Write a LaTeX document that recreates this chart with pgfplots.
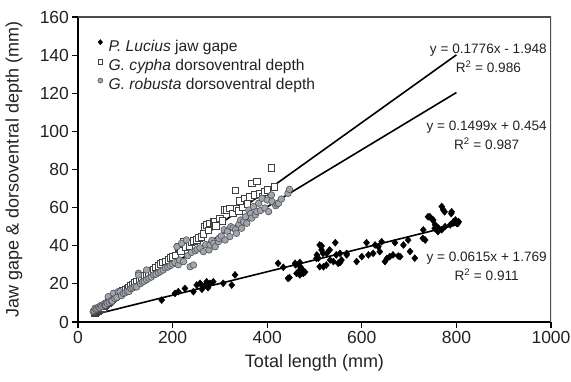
\documentclass[border=0pt]{standalone}
\usepackage{fontspec}
\setmainfont{Liberation Sans}
\usepackage{pgfplots}
\pgfplotsset{compat=1.18}
\definecolor{robfill}{HTML}{A2A6AC}
\definecolor{robedge}{HTML}{505358}
\definecolor{txt}{HTML}{222222}
\begin{document}
\begin{tikzpicture}
\begin{axis}[
 name=ax,
 scale only axis, width=473pt, height=305pt,
 xmin=0,xmax=1000,ymin=0,ymax=160,
 xtick={0,200,...,1000}, ytick={0,20,...,160},
 axis lines*=left,
 axis line style={black, line width=1.6pt},
 tick align=outside, major tick length=5.5pt,
 tick style={black, line width=1.1pt},
 ticklabel style={font=\fontsize{17.5}{20}\selectfont, text=txt},
 /pgf/number format/assume math mode=true,
 /pgf/number format/1000 sep={},
 xlabel={Total length (mm)}, ylabel={Jaw gape \& dorsoventral depth (mm)},
 label style={font=\fontsize{18}{21}\selectfont, text=txt},
 xlabel style={at={(axis description cs:0.5,-0.1344)}, anchor=center},
 ylabel style={at={(axis description cs:-0.1353,0.5)}, anchor=center},
 legend style={draw=none, fill=none, at={(axis description cs:0.038,0.9331)}, anchor=north west, inner sep=0pt,
   font=\fontsize{15.6}{18}\selectfont, text=txt,
   nodes={inner sep=2.6pt, text height=11pt, text depth=3pt}, row sep=0pt, column sep=0pt},
 legend cell align=left,
 legend image code/.code={\path (-4pt,0pt) (5.5pt,0pt); \draw[#1, every mark/.append style={scale=0.75}] plot coordinates {(0pt,5pt)};},
]
\addplot[only marks, mark=diamond*, mark size=3.5pt, mark options={black, fill=black, xscale=1.15}] coordinates {
(177,11.5) (205,15.0) (212,15.9) (226,17.6) (244,15.9) (251,19.4) (258,20.3) (265,18.5) (272,21.1) (279,20.3)
(286,21.1) (268,19.0) (262,17.2) (275,18.0) (307,20.3) (325,19.4) (332,24.7) (423,30.8) (434,28.7) (444,22.9)
(447,23.3) (459,30.8) (460,30.0) (462,25.5) (469,27.3) (469,31.2) (469,24.7) (476,25.5) (476,27.0) (470,29.0)
(480,26.2) (504,33.4) (505,35.2) (508,33.5) (511,40.4) (511,29.0) (515,39.9) (515,37.8) (518,36.0) (519,29.0)
(525,29.9) (526,36.0) (532,37.8) (533,32.5) (540,31.7) (544,41.6) (546,35.2) (550,30.8) (554,31.2) (554,36.0)
(557,32.5) (568,36.0) (568,35.2) (589,31.7) (600,34.3) (610,41.6) (614,35.2) (624,36.0) (628,40.4) (635,39.5)
(638,36.9) (642,42.1) (649,31.7) (653,33.3) (659,34.3) (666,35.2) (670,41.6) (677,34.6) (681,34.3) (688,40.4)
(698,43.0) (702,37.0) (712,33.5) (729,43.9) (730,48.3) (734,43.0) (740,55.2) (744,55.2) (750,53.5) (751,53.5)
(754,49.2) (755,51.0) (761,47.4) (762,49.3) (769,60.6) (769,48.4) (772,58.9) (775,57.8) (776,50.0) (787,51.0)
(789,56.9) (790,57.8) (794,52.6) (798,53.5) (799,52.6) (801,51.7) (803,51.7) (805,52.6)
};
\addlegendentry{\textit{P. Lucius} jaw gape}
\addplot[only marks, mark=square*, mark size=3.3pt, mark options={draw=black!75, fill=white, line width=0.7pt}] coordinates {
(35,4.5) (38,5.2) (40,5.8) (42,5.5) (45,6.3) (48,7.0) (50,7.2) (52,7.5) (55,8.3) (58,8.8)
(60,9.5) (63,9.8) (65,10.5) (68,10.9) (70,11.6) (73,11.8) (75,12.5) (78,12.9) (80,13.6) (84,13.9)
(88,14.8) (92,15.2) (95,16.3) (100,16.8) (104,17.5) (108,18.1) (112,18.9) (116,19.5) (120,20.6) (125,21.2)
(130,22.1) (135,22.8) (140,24.2) (145,24.9) (150,25.6) (155,26.8) (160,27.5) (165,28.6) (170,29.5) (175,30.4)
(180,31.2) (185,31.9) (191,32.5) (196,33.8) (201,34.3) (206,35.0) (212,38.6) (212,39.5) (218,37.4) (223,41.2)
(223,42.2) (228,39.4) (235,40.1) (240,41.8) (245,42.6) (251,43.0) (255,44.1) (261,44.8) (265,46.2) (268,50.0)
(272,50.9) (276,48.1) (279,51.7) (286,52.6) (289,52.6) (292,50.3) (300,54.4) (305,53.0) (311,58.7) (314,58.7)
(321,59.6) (328,57.0) (333,69.0) (335,59.6) (340,58.4) (342,63.6) (348,60.2) (352,64.9) (358,62.1) (363,65.7)
(367,72.8) (373,66.6) (378,73.7) (384,67.2) (390,66.0) (394,68.3) (400,69.4) (409,81.0) (415,70.8)
};
\addlegendentry{\textit{G. cypha} dorsoventral depth}
\addplot[only marks, mark=*, mark size=3.3pt, mark options={draw=robedge, fill=robfill, line width=0.6pt}] coordinates {
(32,5.5) (34,6.0) (36,7.2) (38,6.5) (40,7.0) (43,7.8) (46,7.5) (48,8.6) (50,8.2) (53,9.1)
(56,9.4) (58,8.9) (60,10.2) (62,9.8) (64,13.3) (66,10.4) (70,11.2) (72,11.0) (75,15.1) (78,12.3)
(82,12.9) (85,15.9) (89,15.9) (92,13.8) (96,15.0) (100,15.4) (104,16.2) (108,16.0) (112,17.5) (116,17.9)
(120,18.6) (124,18.4) (128,25.6) (128,24.6) (132,20.1) (136,21.0) (140,21.4) (145,27.3) (145,22.2) (150,23.0)
(155,23.6) (160,24.8) (165,25.1) (170,25.9) (175,26.6) (180,27.3) (185,28.4) (190,28.8) (195,29.6) (200,30.4)
(205,31.2) (209,39.5) (212,30.0) (215,32.5) (219,41.3) (223,31.7) (229,43.0) (232,34.8) (237,29.0) (240,36.5)
(244,29.9) (248,37.4) (252,38.2) (258,38.9) (265,36.9) (270,40.6) (277,37.8) (279,40.4) (283,42.8) (287,41.3)
(290,39.5) (297,42.2) (298,43.9) (303,45.1) (309,48.4) (311,43.0) (316,47.6) (321,44.8) (323,50.0) (328,49.3)
(333,48.4) (335,46.5) (340,51.2) (344,53.5) (346,49.2) (350,52.6) (354,55.2) (357,51.8) (361,58.7) (365,56.9)
(367,54.5) (371,60.5) (375,56.2) (378,58.0) (382,62.3) (386,58.5) (389,64.9) (395,59.8) (400,64.0) (403,57.9)
(410,63.2) (409,66.6) (418,61.0) (421,61.9) (424,62.3) (430,64.5) (444,67.5) (447,69.6)
};
\addlegendentry{\textit{G. robusta} dorsoventral depth}
\addplot[black, line width=1.6pt, forget plot] coordinates {(35,4.268) (800,140.132)};
\addplot[black, line width=1.6pt, forget plot] coordinates {(32,5.251) (800,120.374)};
\addplot[black, line width=1.6pt, forget plot] coordinates {(36,3.983) (800,50.969)};
\draw[color=black!70, line width=1.1pt] (rel axis cs:0,1) -- (rel axis cs:1,1) -- (rel axis cs:1,0);
\node[anchor=east, align=center, inner sep=0pt, text=txt, font=\fontsize{13.6}{19}\selectfont] at (axis cs:991.5,138.1) {y = 0.1776x - 1.948\\R\textsuperscript{2} = 0.986};
\node[anchor=east, align=center, inner sep=0pt, text=txt, font=\fontsize{13.6}{19}\selectfont] at (axis cs:991.5,97.8) {y = 0.1499x + 0.454\\R\textsuperscript{2} = 0.987};
\node[anchor=east, align=center, inner sep=0pt, text=txt, font=\fontsize{13.6}{19}\selectfont] at (axis cs:991.5,29.3) {y = 0.0615x + 1.769\\R\textsuperscript{2} = 0.911};
\end{axis}
\pgfresetboundingbox
\path[use as bounding box] ([xshift=-78pt,yshift=-59pt]ax.south west) rectangle ([xshift=20pt,yshift=17pt]ax.north east);
\end{tikzpicture}
\end{document}
